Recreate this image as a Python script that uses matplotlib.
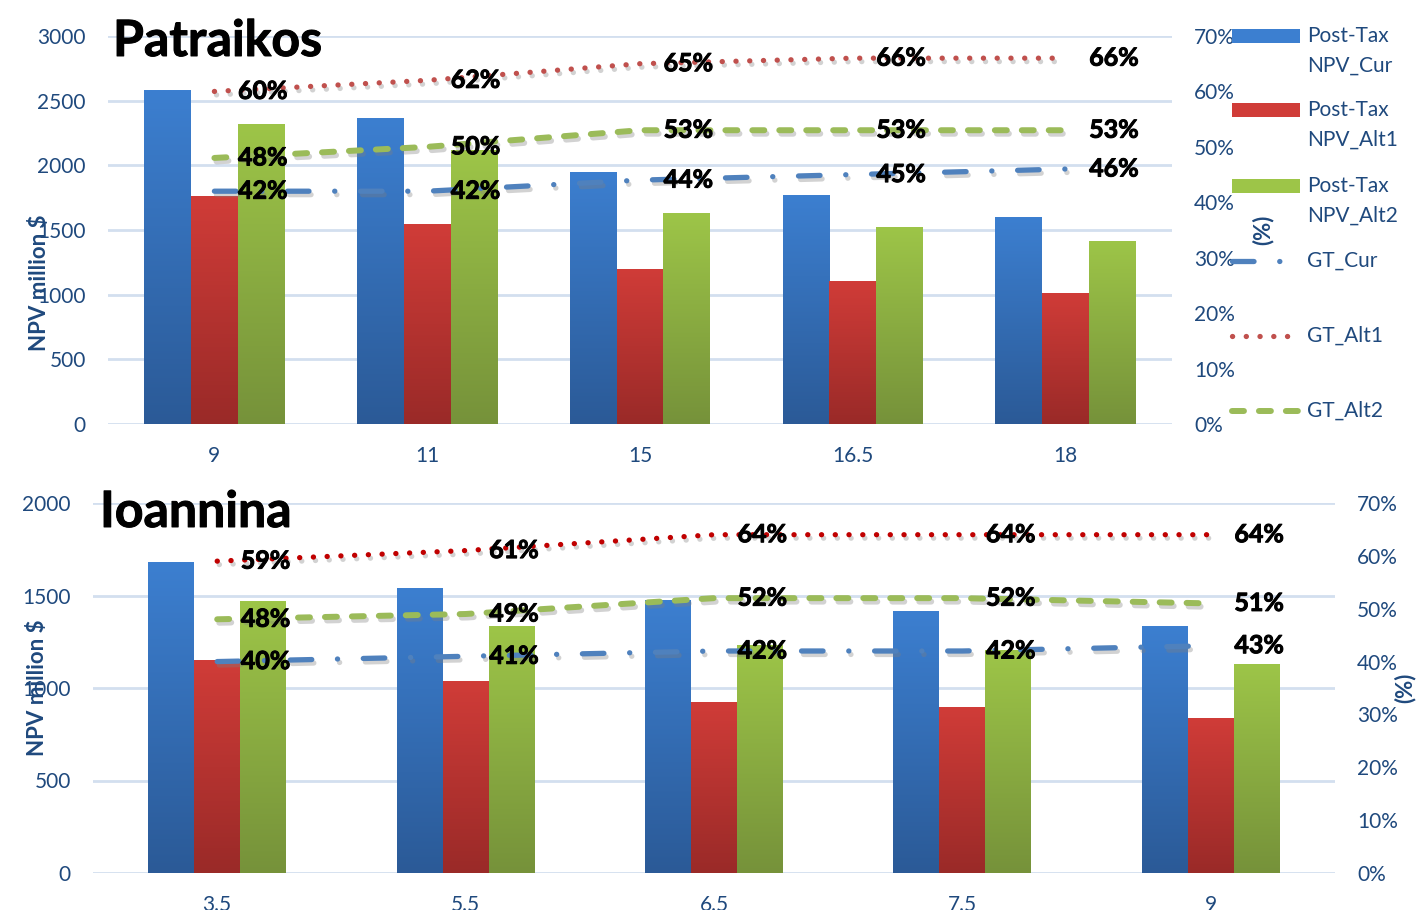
import numpy as np
import matplotlib
matplotlib.use("Agg")
import matplotlib.pyplot as plt
from matplotlib.colors import LinearSegmentedColormap
from matplotlib.lines import Line2D
from matplotlib.patches import Rectangle
import matplotlib.patheffects as pe
from matplotlib.ticker import FuncFormatter

plt.rcParams['font.family'] = ['Lato', 'DejaVu Sans']
plt.rcParams['lines.scale_dashes'] = False

# ---------------- data ----------------
top_title = "Patraikos"
top_cats = ["9", "11", "15", "16.5", "18"]
top_npv_cur = [2580, 2365, 1950, 1770, 1600]
top_npv_alt1 = [1765, 1545, 1200, 1105, 1015]
top_npv_alt2 = [2320, 2120, 1630, 1525, 1415]
top_gt_cur = [42, 42, 44, 45, 46]
top_gt_alt1 = [60, 62, 65, 66, 66]
top_gt_alt2 = [48, 50, 53, 53, 53]

bot_title = "Ioannina"
bot_cats = ["3.5", "5.5", "6.5", "7.5", "9"]
bot_npv_cur = [1680, 1540, 1475, 1415, 1335]
bot_npv_alt1 = [1150, 1040, 925, 895, 840]
bot_npv_alt2 = [1470, 1335, 1235, 1205, 1130]
bot_gt_cur = [40, 41, 42, 42, 43]
bot_gt_alt1 = [59, 61, 64, 64, 64]
bot_gt_alt2 = [48, 49, 52, 52, 51]

legend_labels = ["Post-Tax\nNPV_Cur", "Post-Tax\nNPV_Alt1", "Post-Tax\nNPV_Alt2",
                 "GT_Cur", "GT_Alt1", "GT_Alt2"]

# ---------------- styles ----------------
W, H = 1421, 910
AX_COL = '#1F497D'
GRID_COL = '#D3DFEF'
BLUE = ('#3C7FD0', '#2B5A97')
RED = ('#D03C38', '#9A2A28')
GREEN = ('#9DC548', '#76923A')
LINE_BLUE = '#4F81BD'
LINE_RED_TOP = '#C0504D'
LINE_RED_BOT = '#C00000'
LINE_GREEN = '#9BBB59'

fig = plt.figure(figsize=(W / 100, H / 100), dpi=100)


def px_rect(l, t, r, b):
    return [l / W, 1 - b / H, (r - l) / W, (b - t) / H]


def gradient_bar(ax, x, h, w, cols):
    bar = ax.bar(x, h, w, color=cols[1], linewidth=0, zorder=2)[0]
    cmap = LinearSegmentedColormap.from_list('g', [cols[1], cols[0]])
    im = ax.imshow(np.linspace(0, 1, 128).reshape(-1, 1), extent=[x - w / 2, x + w / 2, 0, h],
                   origin='lower', aspect='auto', cmap=cmap, zorder=2.1)
    im.set_clip_path(bar)


shadow = [pe.SimpleLineShadow(offset=(1.5, -2.5), shadow_color='#808080', alpha=0.35), pe.Normal()]
bold_fx = [pe.withStroke(linewidth=0.7, foreground='black')]


def draw_panel(rect, cats, cur, alt1, alt2, g_cur, g_alt1, g_alt2, ymax, ystep, bw,
               red_line, ylabel_pos, rlabel_pos, title, title_xy):
    ax = fig.add_axes(rect)
    n = len(cats)
    xs = np.arange(n)
    for i in range(n):
        gradient_bar(ax, xs[i] - bw, cur[i], bw, BLUE)
        gradient_bar(ax, xs[i], alt1[i], bw, RED)
        gradient_bar(ax, xs[i] + bw, alt2[i], bw, GREEN)
    ax.set_xlim(-0.5, n - 0.5)
    ax.set_ylim(0, ymax)
    ax.set_yticks(np.arange(0, ymax + 1, ystep))
    ax.set_xticks(xs)
    ax.set_xticklabels(cats)
    ax.set_axisbelow(True)
    ax.yaxis.grid(True, color=GRID_COL, linewidth=2)
    for s in ax.spines.values():
        s.set_visible(False)
    ax.tick_params(axis='y', length=0, pad=16, labelsize=15, labelcolor=AX_COL)
    ax.tick_params(axis='x', length=0, pad=16, labelsize=15, labelcolor=AX_COL)
    ax.set_ylabel("NPV million $", fontsize=16, fontweight='bold', color=AX_COL)
    ax.yaxis.set_label_coords(*ylabel_pos)

    ax2 = ax.twinx()
    ax2.set_ylim(0, 70)
    ax2.set_yticks(np.arange(0, 71, 10))
    ax2.yaxis.set_major_formatter(FuncFormatter(lambda v, p: f"{int(v)}%"))
    for s in ax2.spines.values():
        s.set_visible(False)
    ax2.tick_params(axis='y', length=0, pad=16, labelsize=15, labelcolor=AX_COL)
    ax2.set_ylabel("(%)", fontsize=16, fontweight='bold', color=AX_COL)
    ax2.yaxis.set_label_coords(*rlabel_pos)

    ax2.plot(xs, g_cur, color=LINE_BLUE, lw=3.8, dashes=(15.5, 18.5, 0.1, 18.5),
             dash_capstyle='round', solid_capstyle='round', path_effects=shadow, zorder=3)
    ax2.plot(xs, g_alt1, color=red_line, lw=3.8, dashes=(0.1, 9.8),
             dash_capstyle='round', path_effects=shadow, zorder=3)
    ax2.plot(xs, g_alt2, color=LINE_GREEN, lw=4.3, dashes=(8.6, 10.8),
             dash_capstyle='round', path_effects=shadow, zorder=3)
    for series in (g_cur, g_alt1, g_alt2):
        for i, v in enumerate(series):
            ax2.annotate(f"{v}%", (xs[i], v), xytext=(17, 0), textcoords='offset points',
                         ha='left', va='center', fontsize=18, fontweight='bold',
                         color='black', zorder=5, path_effects=bold_fx)
    fig.text(title_xy[0] / W, 1 - title_xy[1] / H, title, fontsize=36, fontweight='bold',
             color='black', va='baseline', ha='left', path_effects=bold_fx)
    return ax, ax2


draw_panel(px_rect(108, 36, 1172, 424), top_cats, top_npv_cur, top_npv_alt1, top_npv_alt2,
           top_gt_cur, top_gt_alt1, top_gt_alt2, 3000, 500, 0.22, LINE_RED_TOP,
           (-0.0545, 0.363), (1.0755, 0.5), top_title, (113, 56))

draw_panel(px_rect(93, 503, 1335, 873), bot_cats, bot_npv_cur, bot_npv_alt1, bot_npv_alt2,
           bot_gt_cur, bot_gt_alt1, bot_gt_alt2, 2000, 500, 0.185, LINE_RED_BOT,
           (-0.0362, 0.5), (1.0476, 0.5), bot_title, (100, 527))

# ---------------- legend (top panel) ----------------
def fx(x):
    return x / W


def fy(y):
    return 1 - y / H


bar_cols = [BLUE, RED, GREEN]
rect_tops = [29, 103, 179]
for k in range(3):
    t = rect_tops[k]
    fig.add_artist(Rectangle((fx(1232), fy(t + 14)), (1300 - 1232) / W, 14 / H,
                             transform=fig.transFigure, color=bar_cols[k][0], lw=0))
    fig.text(fx(1307), fy(t - 3), legend_labels[k], fontsize=15, color=AX_COL,
             ha='left', va='top', linespacing=1.6)

line_specs = [
    (261, dict(color=LINE_BLUE, lw=3.8, dashes=(15.5, 18.5, 0.1, 18.5), dash_capstyle='round')),
    (336, dict(color=LINE_RED_TOP, lw=3.8, dashes=(0.1, 9.8), dash_capstyle='round')),
    (411, dict(color=LINE_GREEN, lw=4.3, dashes=(8.6, 10.8), dash_capstyle='round')),
]
for k, (yy, st) in enumerate(line_specs):
    fig.add_artist(Line2D([fx(1232), fx(1300)], [fy(yy), fy(yy)], transform=fig.transFigure, **st))
    fig.text(fx(1307), fy(yy), legend_labels[3 + k], fontsize=15, color=AX_COL,
             ha='left', va='center')

fig.savefig("out.png", dpi=100)
